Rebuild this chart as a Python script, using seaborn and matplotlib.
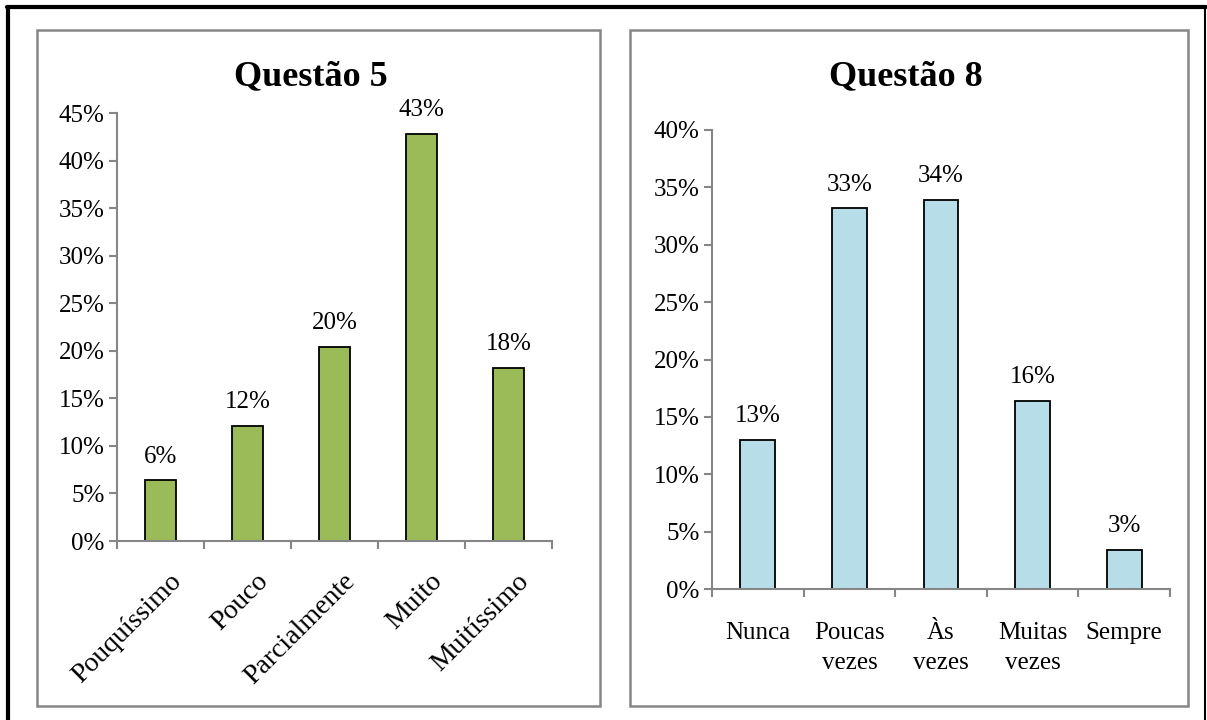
import matplotlib
matplotlib.use("Agg")
import matplotlib.pyplot as plt
from matplotlib.patches import Rectangle
from matplotlib.lines import Line2D
from matplotlib.ticker import FuncFormatter, FixedLocator
from matplotlib.transforms import ScaledTranslation
import seaborn as sns
import pandas as pd

# Questão 5
q5_title = "Questão 5"
q5_categories = ["Pouquíssimo", "Pouco", "Parcialmente", "Muito", "Muitíssimo"]
q5_values = [6.4, 12.1, 20.4, 42.8, 18.2]
q5_yticks = [0, 5, 10, 15, 20, 25, 30, 35, 40, 45]

# Questão 8
q8_title = "Questão 8"
q8_categories = ["Nunca", "Poucas\nvezes", "Às\nvezes", "Muitas\nvezes", "Sempre"]
q8_values = [13.0, 33.2, 33.9, 16.4, 3.4]
q8_yticks = [0, 5, 10, 15, 20, 25, 30, 35, 40]

sns.set_theme(style="white")
plt.rcParams["font.family"] = ["Liberation Serif", "DejaVu Serif"]
plt.rcParams["text.color"] = "black"
plt.rcParams["xtick.labelcolor"] = "black"
plt.rcParams["ytick.labelcolor"] = "black"

W, H = 1207, 720
fig = plt.figure(figsize=(W / 100, H / 100), dpi=100)
fig.patch.set_facecolor("white")

AXIS_GREY = "#868686"
FS = 18


def px_rect(x0, y0, x1, y1):
    """Convert a pixel box (top-left origin) to a figure-fraction rect."""
    return [x0 / W, 1 - y1 / H, (x1 - x0) / W, (y1 - y0) / H]


def fig_line(xs, ys, **kw):
    fig.add_artist(Line2D([x / W for x in xs], [1 - y / H for y in ys],
                          transform=fig.transFigure, **kw))


# outer frame
fig_line([8, 8], [7, 720], color="black", lw=3)
fig_line([7, 1206], [7, 7], color="black", lw=3)
fig_line([1205, 1205], [7, 720], color="black", lw=1.5)

# panel frames
for (x0, y0, x1, y1) in [(37, 30, 600, 706), (630, 30, 1188, 706)]:
    r = px_rect(x0, y0, x1, y1)
    fig.add_artist(Rectangle((r[0], r[1]), r[2], r[3], fill=False,
                             edgecolor=AXIS_GREY, lw=1.8,
                             transform=fig.transFigure))


def draw_panel(ax, cats, vals, yticks, color, width, rotate):
    df = pd.DataFrame({"cat": cats, "val": vals})
    sns.barplot(data=df, x="cat", y="val", color=color, width=width,
                edgecolor="black", linewidth=1.3, saturation=1, ax=ax)
    ax.set_xlim(-0.5, len(cats) - 0.5)
    ax.set_ylim(yticks[0], yticks[-1])
    ax.set_yticks(yticks)
    ax.yaxis.set_major_formatter(FuncFormatter(lambda v, p: f"{v:.0f}%"))
    ax.set_xlabel("")
    ax.set_ylabel("")
    for s in ["top", "right"]:
        ax.spines[s].set_visible(False)
    for s in ["left", "bottom"]:
        ax.spines[s].set_color(AXIS_GREY)
        ax.spines[s].set_linewidth(1.5)
    ax.tick_params(axis="y", direction="out", length=6, width=1.5,
                   color=AXIS_GREY, labelsize=FS, pad=3, left=True)
    # category boundaries carry the x ticks; labels sit at category centres
    ax.xaxis.set_major_locator(FixedLocator([i - 0.5 for i in range(len(cats) + 1)]))
    ax.xaxis.set_major_formatter(FuncFormatter(lambda v, p: ""))
    ax.xaxis.set_minor_locator(FixedLocator(list(range(len(cats)))))
    ax.tick_params(axis="x", which="major", direction="out", length=6, width=1.5,
                   color=AXIS_GREY, bottom=True)
    ax.tick_params(axis="x", which="minor", length=0, bottom=True)
    if rotate:
        labels = ax.set_xticklabels(cats, minor=True, rotation=45, ha="right",
                                    rotation_mode="anchor", fontsize=20)
        ax.tick_params(axis="x", which="minor", pad=20)
        shift = ScaledTranslation(8 / 100, 0, fig.dpi_scale_trans)
        for lab in labels:
            lab.set_transform(lab.get_transform() + shift)
    else:
        ax.set_xticklabels(cats, minor=True, fontsize=FS, linespacing=1.45,
                           va="top")
        ax.tick_params(axis="x", which="minor", pad=24)
    ax.grid(False)
    for i, v in enumerate(vals):
        ax.annotate(f"{v:.0f}%", (i, v), xytext=(0, 9), textcoords="offset points",
                    ha="center", va="bottom", fontsize=FS)


ax1 = fig.add_axes(px_rect(117, 113, 552, 541))
draw_panel(ax1, q5_categories, q5_values, q5_yticks, "#9BBB59", 0.36, True)
ax2 = fig.add_axes(px_rect(712, 130, 1170, 589))
draw_panel(ax2, q8_categories, q8_values, q8_yticks, "#B7DDE8", 0.38, False)

fig.text(311 / W, 1 - 77 / H, q5_title, ha="center", va="center",
         fontsize=26, fontweight="bold")
fig.text(906 / W, 1 - 77 / H, q8_title, ha="center", va="center",
         fontsize=26, fontweight="bold")

fig.savefig("out.png", dpi=100, facecolor="white")
